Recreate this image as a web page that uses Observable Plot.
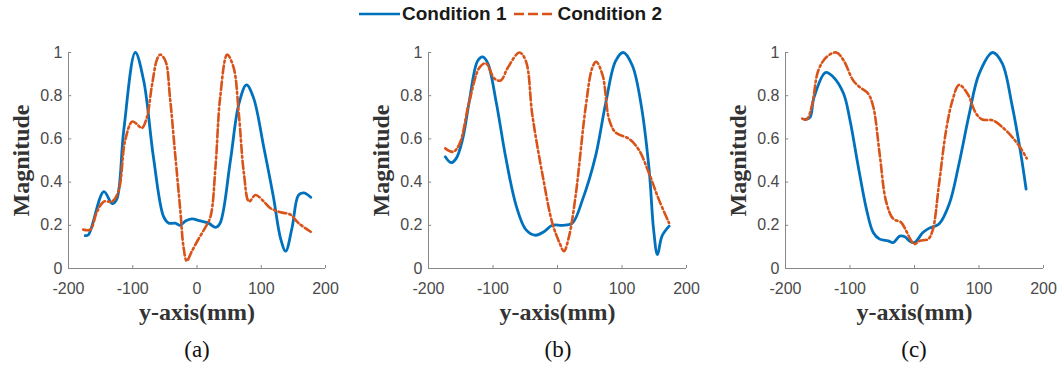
<!DOCTYPE html>
<html>
<head>
<meta charset="utf-8">
<script src="https://cdn.jsdelivr.net/npm/d3@7"></script>
<script src="https://cdn.jsdelivr.net/npm/@observablehq/plot@0.6"></script>
<style>
  html, body { margin: 0; padding: 0; background: #fff; }
  #wrap { position: relative; width: 1062px; height: 369px; overflow: hidden; }
  .panel { position: absolute; top: 30px; }
  .legend { position: absolute; top: 3px; left: 358px; display: flex; align-items: center;
            font: bold 19px "Liberation Sans", Arial, sans-serif; color: #1a1a1a; white-space: nowrap; }
  .legend svg { display: block; }
  .cap { position: absolute; top: 337px; width: 80px; text-align: center;
         font: 23px "Liberation Serif", "Times New Roman", serif; color: #111; }
</style>
</head>
<body>
<div id="wrap"></div>
<script>
// ---- data ----
const seriesNames = ["Condition 1", "Condition 2"];
const panelLabels = ["(a)", "(b)", "(c)"];
const xTicks = [-200, -100, 0, 100, 200];
const xTickLabels = ["-200", "-100", "0", "100", "200"];
const yTicks = [0, 0.2, 0.4, 0.6, 0.8, 1];
const yTickLabels = ["0", "0.2", "0.4", "0.6", "0.8", "1"];
const yLabel = "Magnitude";
const xLabel = "y-axis(mm)";

// panel (a)
const aX1 = [-174,-169,-145,-132,-125,-114,-96,-83,-68,-52,-44,-34,-26,-18,-8,5,18,29,36,52,65,77,88,104,119,130,138,148,158,166,177];
const aY1 = [0.152,0.156,0.356,0.30,0.32,0.64,1.0,0.87,0.52,0.24,0.21,0.21,0.20,0.22,0.23,0.22,0.21,0.19,0.21,0.50,0.76,0.85,0.79,0.56,0.33,0.14,0.08,0.19,0.34,0.35,0.33];
const aX2 = [-177,-166,-156,-145,-132,-122,-112,-101,-94,-86,-78,-70,-62,-57,-49,-42,-34,-26,-21,-16,-8,3,13,21,29,36,47,57,65,73,81,91,104,114,130,145,158,177];
const aY2 = [0.18,0.18,0.26,0.31,0.31,0.36,0.59,0.68,0.67,0.65,0.70,0.85,0.97,0.99,0.96,0.79,0.53,0.27,0.10,0.035,0.08,0.14,0.19,0.24,0.48,0.79,0.99,0.93,0.72,0.44,0.31,0.34,0.31,0.28,0.26,0.25,0.21,0.17];
// panel (b)
const bX1 = [-174,-165,-157,-147,-137,-124,-116,-108,-95,-80,-64,-49,-34,-21,-8,8,23,39,59,75,90,102,116,129,142,149,155,162,173];
const bY1 = [0.517,0.49,0.51,0.60,0.77,0.96,0.98,0.95,0.77,0.51,0.29,0.18,0.154,0.17,0.20,0.20,0.21,0.32,0.52,0.77,0.96,1.0,0.94,0.77,0.46,0.18,0.064,0.15,0.196];
const bX2 = [-174,-162,-152,-137,-121,-111,-98,-88,-77,-59,-49,-39,-23,-8,3,10,18,28,44,54,60,70,80,90,111,126,142,157,173];
const bY2 = [0.556,0.54,0.576,0.77,0.93,0.95,0.88,0.87,0.93,1.0,0.96,0.71,0.43,0.21,0.12,0.08,0.15,0.335,0.755,0.93,0.957,0.894,0.69,0.63,0.60,0.55,0.44,0.32,0.21];
// panel (c)
const cX1 = [-170,-162,-156,-138,-126,-110,-100,-87,-74,-64,-54,-41,-33,-23,-15,-8,0,13,23,38,54,69,85,100,121,136,151,164,173];
const cY1 = [0.69,0.70,0.79,0.907,0.887,0.81,0.686,0.469,0.268,0.167,0.136,0.128,0.12,0.15,0.147,0.128,0.12,0.167,0.187,0.206,0.30,0.485,0.717,0.90,1.0,0.95,0.76,0.546,0.368];
const cX2 = [-174,-167,-159,-149,-136,-121,-110,-95,-85,-72,-64,-54,-44,-33,-21,-13,-5,0,8,21,28,38,49,59,69,82,95,105,121,136,151,164,174];
const cY2 = [0.694,0.69,0.755,0.918,0.98,1.0,0.964,0.87,0.84,0.81,0.75,0.53,0.31,0.23,0.214,0.175,0.128,0.113,0.128,0.136,0.175,0.39,0.64,0.78,0.85,0.81,0.72,0.69,0.686,0.655,0.61,0.56,0.51];

const colors = ["#0072BD", "#D95319"];
const dash2 = "8,3,2,3";

const panels = [
  {x1: aX1, y1: aY1, x2: aX2, y2: aY2, left: 0,   ml: 68, mr: 29, cap: 157},
  {x1: bX1, y1: bY1, x2: bX2, y2: bY2, left: 354, ml: 74, mr: 22, cap: 518},
  {x1: cX1, y1: cY1, x2: cX2, y2: cY2, left: 708, ml: 77, mr: 19, cap: 874}
];

const wrap = document.getElementById("wrap");

// legend
const leg = document.createElement("div");
leg.className = "legend";
function swatch(color, dash) {
  const ns = "http://www.w3.org/2000/svg";
  const s = document.createElementNS(ns, "svg");
  s.setAttribute("width", 43); s.setAttribute("height", 10);
  const l = document.createElementNS(ns, "line");
  l.setAttribute("x1", 1); l.setAttribute("x2", 42); l.setAttribute("y1", 5); l.setAttribute("y2", 5);
  l.setAttribute("stroke", color); l.setAttribute("stroke-width", 2.5);
  if (dash) l.setAttribute("stroke-dasharray", dash);
  s.appendChild(l);
  return s;
}
leg.appendChild(swatch(colors[0]));
const t1 = document.createElement("span"); t1.textContent = seriesNames[0]; t1.style.margin = "0 7px 0 1px"; leg.appendChild(t1);
leg.appendChild(swatch(colors[1], "10,4"));
const t2 = document.createElement("span"); t2.textContent = seriesNames[1]; t2.style.marginLeft = "1px"; leg.appendChild(t2);
wrap.appendChild(leg);

panels.forEach((p, i) => {
  const d1 = p.x1.map((x, k) => ({x, y: p.y1[k]}));
  const d2 = p.x2.map((x, k) => ({x, y: p.y2[k]}));
  const chart = Plot.plot({
    width: 354,
    height: 300,
    marginLeft: p.ml,
    marginRight: p.mr,
    marginTop: 22,
    marginBottom: 62,
    style: {fontFamily: "'Liberation Sans', Arial, sans-serif", color: "#4a4a4a", background: "transparent", overflow: "visible"},
    x: {domain: [-200, 200]},
    y: {domain: [0, 1]},
    marks: [
      Plot.axisX({ticks: xTicks, tickFormat: (d, k) => xTickLabels[k], tickSize: 0, tickPadding: 14, fontSize: 16, label: null}),
      Plot.axisY({ticks: yTicks, tickFormat: (d, k) => yTickLabels[k], tickSize: 0, tickPadding: 6, fontSize: 16, label: null}),
      Plot.ruleY([0], {stroke: "#888", strokeWidth: 1}),
      Plot.ruleX([-200], {stroke: "#888", strokeWidth: 1}),
      Plot.ruleX(xTicks, {x: d => d, y1: 0, y2: 0.014, stroke: "#888"}),
      Plot.ruleY(yTicks, {y: d => d, x1: -200, x2: -195, stroke: "#888"}),
      Plot.line(d1, {x: "x", y: "y", stroke: colors[0], strokeWidth: 2.8, curve: "catmull-rom"}),
      Plot.line(d2, {x: "x", y: "y", stroke: colors[1], strokeWidth: 2.6, strokeDasharray: dash2, curve: "catmull-rom"}),
      Plot.text([yLabel], {frameAnchor: "left", dx: -47, rotate: -90, text: d => d, fontSize: 24, fontWeight: "bold", fontFamily: "'Liberation Serif', 'Times New Roman', serif", fill: "#333", textAnchor: "middle"}),
      Plot.text([xLabel], {frameAnchor: "bottom", dy: 44, text: d => d, fontSize: 24, fontWeight: "bold", fontFamily: "'Liberation Serif', 'Times New Roman', serif", fill: "#333", textAnchor: "middle", lineAnchor: "middle"})
    ]
  });
  chart.classList.add("panel");
  chart.style.left = p.left + "px";
  chart.style.position = "absolute";
  wrap.appendChild(chart);

  const cap = document.createElement("div");
  cap.className = "cap";
  cap.style.left = p.cap + "px";
  cap.textContent = panelLabels[i];
  wrap.appendChild(cap);
});
</script>
</body>
</html>
